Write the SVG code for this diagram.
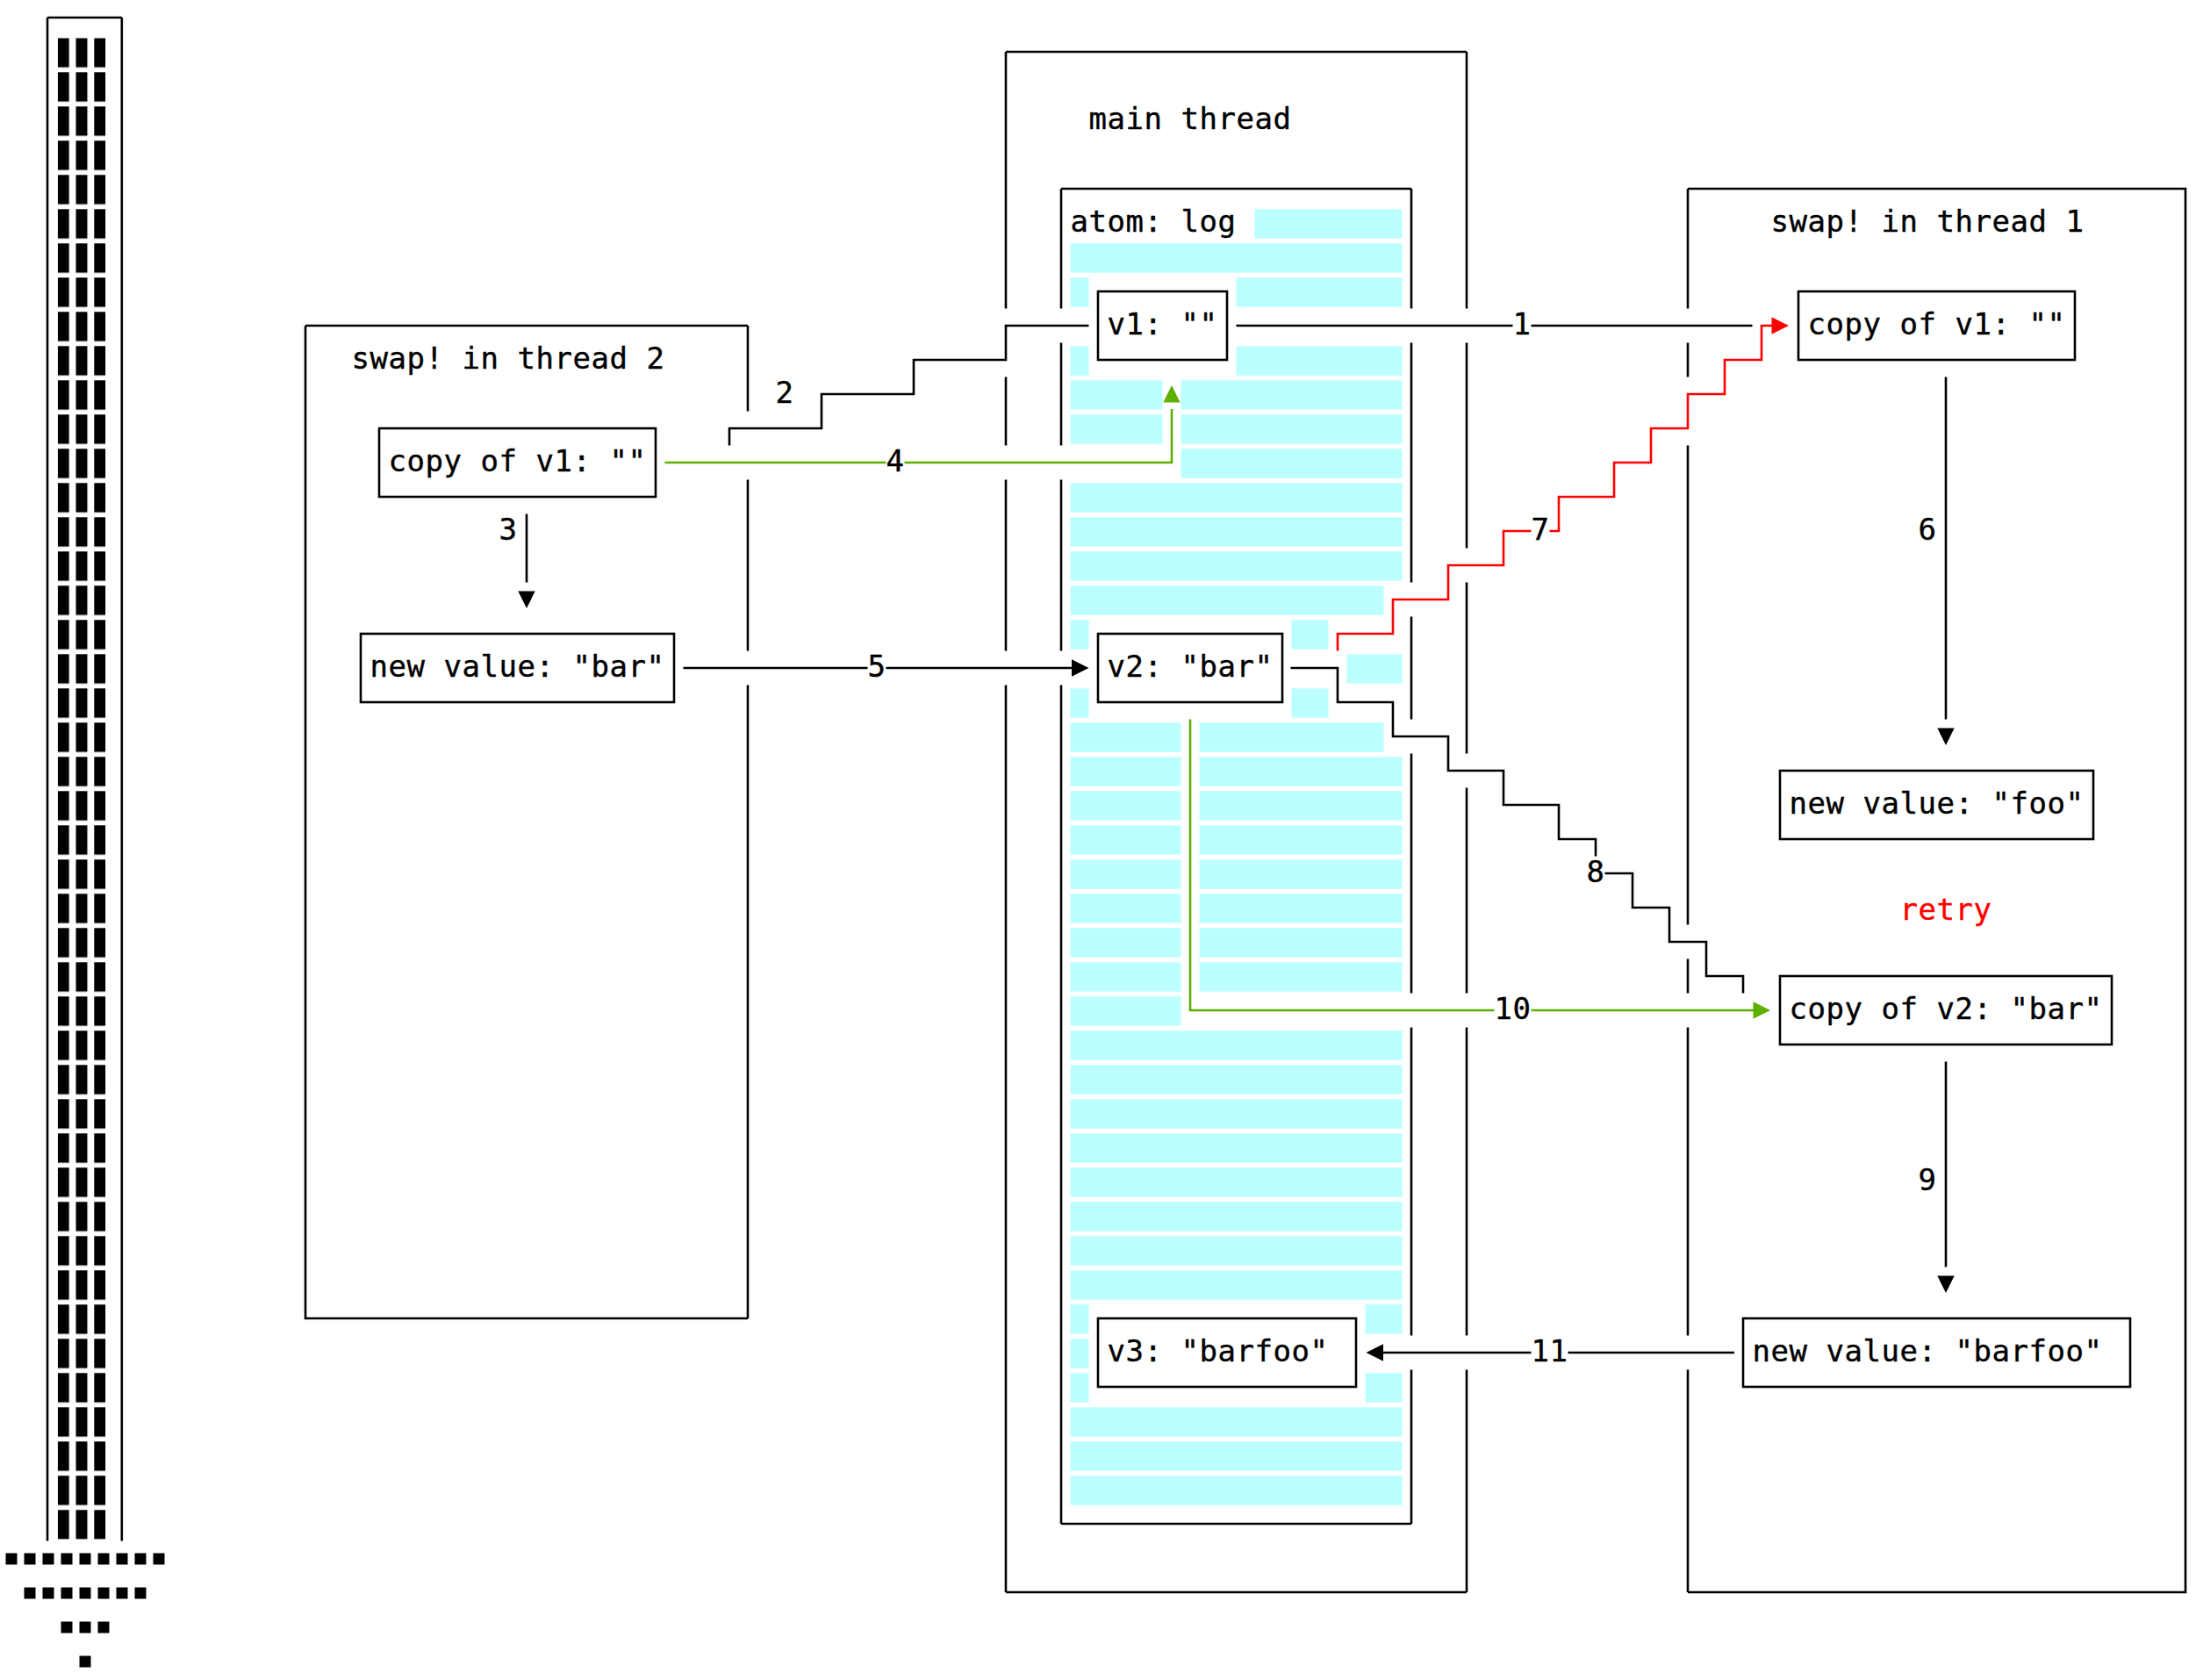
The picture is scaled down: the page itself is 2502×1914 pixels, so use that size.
<svg xmlns="http://www.w3.org/2000/svg" xmlns:xlink="http://www.w3.org/1999/xlink" width="2502" height="1914" viewBox="0 0 2502 1914">
<style>
  .ln { fill: none; stroke: #000; stroke-width: 2.6; stroke-linecap: butt; stroke-linejoin: miter; }
  .red { fill: none; stroke: #ff0000; stroke-width: 2.6; stroke-linejoin: miter; }
  .grn { fill: none; stroke: #5eb000; stroke-width: 2.6; stroke-linejoin: miter; }
  .box { fill: #fff; stroke: #000; stroke-width: 2.6; }
  .cy { fill: #bbffff; }
  .blk { fill: #000; }
  .t { font-family: "DejaVu Sans Mono", "Liberation Mono", monospace; font-size: 34px; letter-spacing: 0.53px; fill: #000; stroke: #000; stroke-width: 0.4; }
  .tr { fill: #ff0000; stroke: #ff0000; }
</style>
<defs>
  <path id="ah" d="M0,0 L-19.5,-9.7 L-19.5,9.7 Z"/>
  <pattern id="tw" patternUnits="userSpaceOnUse" x="65.7" y="43.3" width="20.8" height="39">
    <rect x="0" y="0" width="13" height="33.4" fill="#000"/>
  </pattern>
</defs>
<rect width="2502" height="1914" fill="#fff"/>

<g id="tower">
  <path class="ln" d="M54,20 V1755.5 M138.8,20 V1755.5 M54,20 H138.8"/>
  <rect x="65.7" y="43.3" width="54.6" height="1710.4" fill="url(#tw)"/>
  <g class="blk">
    <rect x="6.5" y="1769.5" width="13" height="13"/><rect x="27.5" y="1769.5" width="13" height="13"/><rect x="48.5" y="1769.5" width="13" height="13"/><rect x="69.5" y="1769.5" width="13" height="13"/><rect x="90.5" y="1769.5" width="13" height="13"/><rect x="111.5" y="1769.5" width="13" height="13"/><rect x="132.5" y="1769.5" width="13" height="13"/><rect x="153.5" y="1769.5" width="13" height="13"/><rect x="174.5" y="1769.5" width="13" height="13"/>
    <rect x="27.5" y="1808.5" width="13" height="13"/><rect x="48.5" y="1808.5" width="13" height="13"/><rect x="69.5" y="1808.5" width="13" height="13"/><rect x="90.5" y="1808.5" width="13" height="13"/><rect x="111.5" y="1808.5" width="13" height="13"/><rect x="132.5" y="1808.5" width="13" height="13"/><rect x="153.5" y="1808.5" width="13" height="13"/>
    <rect x="69.5" y="1847.5" width="13" height="13"/><rect x="90.5" y="1847.5" width="13" height="13"/><rect x="111.5" y="1847.5" width="13" height="13"/>
    <rect x="90.5" y="1886.5" width="13" height="13"/>
  </g>
</g>

<g id="thread2">
  <path class="ln" d="M348,371 H852 M348,371 V1502 H852 M852,371 V468.5 M852,546.5 V741.5 M852,780.5 V1502"/>
  <text class="t" x="400.5" y="420">swap! in thread 2</text>
</g>

<g id="main-thread">
  <path class="ln" d="M1146,59 H1671 M1146,1814 H1671 M1146,59 V351.5 M1146,429.5 V507.5 M1146,546.5 V741.5 M1146,780.5 V1814 M1671,59 V351.5 M1671,390.5 V624.5 M1671,663.5 V858.5 M1671,897.5 V1131.5 M1671,1170.5 V1521.5 M1671,1560.5 V1814"/>
  <text class="t" x="1240.5" y="147">main thread</text>
</g>

<g id="atom-log">
  <path class="ln" d="M1209,215 H1608 M1209,1736 H1608 M1209,215 V351.5 M1209,390.5 V507.5 M1209,546.5 V741.5 M1209,780.5 V1736 M1608,215 V351.5 M1608,390.5 V663.5 M1608,702.5 V819.5 M1608,858.5 V1131.5 M1608,1170.5 V1521.5 M1608,1560.5 V1736"/>
  <g class="cy">
    <rect x="1429.5" y="238.3" width="168" height="33.4"/>
    <rect x="1219.5" y="277.3" width="378" height="33.4"/>
    <rect x="1219.5" y="316.3" width="21" height="33.4"/><rect x="1408.5" y="316.3" width="189" height="33.4"/>
    <rect x="1219.5" y="394.3" width="21" height="33.4"/><rect x="1408.5" y="394.3" width="189" height="33.4"/>
    <rect x="1219.5" y="433.3" width="105" height="33.4"/><rect x="1345.5" y="433.3" width="252" height="33.4"/>
    <rect x="1219.5" y="472.3" width="105" height="33.4"/><rect x="1345.5" y="472.3" width="252" height="33.4"/>
    <rect x="1345.5" y="511.3" width="252" height="33.4"/>
    <rect x="1219.5" y="550.3" width="378" height="33.4"/>
    <rect x="1219.5" y="589.3" width="378" height="33.4"/>
    <rect x="1219.5" y="628.3" width="378" height="33.4"/>
    <rect x="1219.5" y="667.3" width="357" height="33.4"/>
    <rect x="1219.5" y="706.3" width="21" height="33.4"/><rect x="1471.5" y="706.3" width="42" height="33.4"/>
    <rect x="1534.5" y="745.3" width="63" height="33.4"/>
    <rect x="1219.5" y="784.3" width="21" height="33.4"/><rect x="1471.5" y="784.3" width="42" height="33.4"/>
    <rect x="1219.5" y="823.3" width="126" height="33.4"/><rect x="1366.5" y="823.3" width="210" height="33.4"/>
    <rect x="1219.5" y="862.3" width="126" height="33.4"/><rect x="1366.5" y="862.3" width="231" height="33.4"/>
    <rect x="1219.5" y="901.3" width="126" height="33.4"/><rect x="1366.5" y="901.3" width="231" height="33.4"/>
    <rect x="1219.5" y="940.3" width="126" height="33.4"/><rect x="1366.5" y="940.3" width="231" height="33.4"/>
    <rect x="1219.5" y="979.3" width="126" height="33.4"/><rect x="1366.5" y="979.3" width="231" height="33.4"/>
    <rect x="1219.5" y="1018.3" width="126" height="33.4"/><rect x="1366.5" y="1018.3" width="231" height="33.4"/>
    <rect x="1219.5" y="1057.3" width="126" height="33.4"/><rect x="1366.5" y="1057.3" width="231" height="33.4"/>
    <rect x="1219.5" y="1096.3" width="126" height="33.4"/><rect x="1366.5" y="1096.3" width="231" height="33.4"/>
    <rect x="1219.5" y="1135.3" width="126" height="33.4"/>
    <rect x="1219.5" y="1174.3" width="378" height="33.4"/>
    <rect x="1219.5" y="1213.3" width="378" height="33.4"/>
    <rect x="1219.5" y="1252.3" width="378" height="33.4"/>
    <rect x="1219.5" y="1291.3" width="378" height="33.4"/>
    <rect x="1219.5" y="1330.3" width="378" height="33.4"/>
    <rect x="1219.5" y="1369.3" width="378" height="33.4"/>
    <rect x="1219.5" y="1408.3" width="378" height="33.4"/>
    <rect x="1219.5" y="1447.3" width="378" height="33.4"/>
    <rect x="1219.5" y="1486.3" width="21" height="33.4"/><rect x="1555.5" y="1486.3" width="42" height="33.4"/>
    <rect x="1219.5" y="1525.3" width="21" height="33.4"/>
    <rect x="1219.5" y="1564.3" width="21" height="33.4"/><rect x="1555.5" y="1564.3" width="42" height="33.4"/>
    <rect x="1219.5" y="1603.3" width="378" height="33.4"/>
    <rect x="1219.5" y="1642.3" width="378" height="33.4"/>
    <rect x="1219.5" y="1681.3" width="378" height="33.4"/>
  </g>
  <text class="t" x="1219.5" y="264">atom: log</text>
</g>

<g id="thread1">
  <path class="ln" d="M1923,215 H2490 V1814 H1923 M1923,215 V351.5 M1923,390.5 V429.5 M1923,507.5 V1053.5 M1923,1092.5 V1131.5 M1923,1170.5 V1521.5 M1923,1560.5 V1814"/>
  <text class="t" x="2017.5" y="264">swap! in thread 1</text>
</g>

<g id="t2-copy-v1">
  <rect class="box" x="432" y="488" width="315" height="78"/>
  <text class="t" x="442.5" y="537">copy of v1: ""</text>
</g>
<g id="t2-new-bar">
  <rect class="box" x="411" y="722" width="357" height="78"/>
  <text class="t" x="421.5" y="771">new value: "bar"</text>
</g>
<g id="v1">
  <rect class="box" x="1251" y="332" width="147" height="78"/>
  <text class="t" x="1261.5" y="381">v1: ""</text>
</g>
<g id="v2">
  <rect class="box" x="1251" y="722" width="210" height="78"/>
  <text class="t" x="1261.5" y="771">v2: "bar"</text>
</g>
<g id="v3">
  <rect class="box" x="1251" y="1502" width="294" height="78"/>
  <text class="t" x="1261.5" y="1551">v3: "barfoo"</text>
</g>
<g id="t1-copy-v1">
  <rect class="box" x="2049" y="332" width="315" height="78"/>
  <text class="t" x="2059.5" y="381">copy of v1: ""</text>
</g>
<g id="t1-new-foo">
  <rect class="box" x="2028" y="878" width="357" height="78"/>
  <text class="t" x="2038.5" y="927">new value: "foo"</text>
</g>
<g id="retry">
  <text class="t tr" x="2164.5" y="1048">retry</text>
</g>
<g id="t1-copy-v2">
  <rect class="box" x="2028" y="1112" width="378" height="78"/>
  <text class="t" x="2038.5" y="1161">copy of v2: "bar"</text>
</g>
<g id="t1-new-barfoo">
  <rect class="box" x="1986" y="1502" width="441" height="78"/>
  <text class="t" x="1996.5" y="1551">new value: "barfoo"</text>
</g>

<g id="connectors">
  <!-- 1 -->
  <path class="ln" d="M1408.5,371 H1723.5 M1744.5,371 H1996.5"/>
  <text class="t" x="1723.5" y="381">1</text>
  <!-- 2 -->
  <path class="ln" d="M831,507.5 V488 H936 V449 H1041 V410 H1146 V371 H1240.5"/>
  <text class="t" x="883.5" y="459">2</text>
  <!-- 3 -->
  <path class="ln" d="M600,585.5 V663.5"/>
  <use xlink:href="#ah" transform="translate(600,693) rotate(90)" fill="#000"/>
  <text class="t" x="568.5" y="615">3</text>
  <!-- 4 -->
  <path class="grn" d="M757.5,527 H1009.5 M1030.5,527 H1335 V466"/>
  <use xlink:href="#ah" transform="translate(1335,439) rotate(-90)" fill="#5eb000"/>
  <text class="t" x="1009.5" y="537">4</text>
  <!-- 5 -->
  <path class="ln" d="M778.5,761 H988.5 M1009.5,761 H1222"/>
  <use xlink:href="#ah" transform="translate(1240.5,761)" fill="#000"/>
  <text class="t" x="988.5" y="771">5</text>
  <!-- 6 -->
  <path class="ln" d="M2217,429.5 V819.5"/>
  <use xlink:href="#ah" transform="translate(2217,849) rotate(90)" fill="#000"/>
  <text class="t" x="2185.5" y="615">6</text>
  <!-- 7 -->
  <path class="red" d="M1524,741.5 V722 H1587 V683 H1650 V644 H1713 V605 H1744.5 M1765.5,605 H1776 V566 H1839 V527 H1881 V488 H1923 V449 H1965 V410 H2007 V371 H2020"/>
  <use xlink:href="#ah" transform="translate(2038,371)" fill="#ff0000"/>
  <text class="t" x="1744.5" y="615">7</text>
  <!-- 8 -->
  <path class="ln" d="M1470.5,761 H1524 V800 H1587 V839 H1650 V878 H1713 V917 H1776 V956 H1818 V975.5 M1828.5,995 H1860 V1034 H1902 V1073 H1944 V1112 H1986 V1131.5"/>
  <text class="t" x="1807.5" y="1005">8</text>
  <!-- 9 -->
  <path class="ln" d="M2217,1209.5 V1443.5"/>
  <use xlink:href="#ah" transform="translate(2217,1473) rotate(90)" fill="#000"/>
  <text class="t" x="2185.5" y="1356">9</text>
  <!-- 10 -->
  <path class="grn" d="M1356,819.5 V1151 H1702.5 M1744.5,1151 H1999"/>
  <use xlink:href="#ah" transform="translate(2017,1151)" fill="#5eb000"/>
  <text class="t" x="1702.5" y="1161">10</text>
  <!-- 11 -->
  <path class="ln" d="M1976,1541 H1786.5 M1744.5,1541 H1575"/>
  <use xlink:href="#ah" transform="translate(1556.5,1541) rotate(180)" fill="#000"/>
  <text class="t" x="1744.5" y="1551">11</text>
</g>
</svg>
